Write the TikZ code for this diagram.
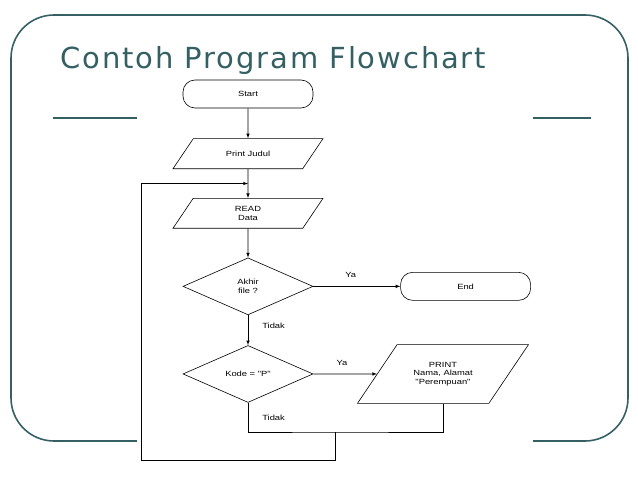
\documentclass[tikz,border=0pt]{standalone}
\usepackage{fontspec}
\setmainfont{Liberation Sans}
\newfontfamily\titlefont[LetterSpace=6.5]{DejaVu Sans}
\newfontfamily\chartfont[FakeStretch=1.25]{Liberation Sans}
\usetikzlibrary{shapes.geometric}
\usetikzlibrary{positioning,calc}

\definecolor{slideteal}{RGB}{52,96,100}

\tikzset{
  every path/.style={line width=0.6pt},
  lbl/.style={font=\chartfont\fontsize{7.5}{8}\selectfont, inner sep=0pt},
  term/.style={draw, rounded corners=12pt, minimum width=130pt, minimum height=28pt,
    inner sep=0pt, font=\chartfont\fontsize{7.5}{8}\selectfont},
  io/.style={draw, trapezium, trapezium left angle=56, trapezium right angle=124,
    trapezium stretches body, inner xsep=0pt, align=center,
    font=\chartfont\fontsize{7.5}{8.5}\selectfont},
  decision/.style={draw, diamond, aspect=2.28, minimum width=130pt, minimum height=57pt,
    inner sep=0pt, align=center, font=\chartfont\fontsize{7.5}{8.5}\selectfont},
}

\begin{document}
\begin{tikzpicture}[x=1pt, y=-1pt, >=latex]
  \useasboundingbox (0,0) rectangle (638,479);

  % slide frame and title
  \draw[slideteal, line width=1.6pt, rounded corners=43pt] (11,15) rectangle (628,441);
  \draw[slideteal, line width=2pt] (53,118) -- (591,118);
  \fill[white] (137,77) rectangle (533,467);
  \node[anchor=base west, inner sep=0pt, text=slideteal,
    font=\titlefont\fontsize{29}{29}\selectfont] (title) at (60,68) {Contoh Program Flowchart};

  % flowchart
  \node[term] (start) at (248,94) {Start};
  \node[io, minimum width=150pt, inner ysep=12.3pt, below=30pt of start] (judul) {Print Judul};
  \node[io, minimum width=150pt, inner ysep=8.1pt, below=29pt of judul] (read) {READ\\Data};
  \node[decision, below=29pt of read] (akhir) {Akhir\\file ?};
  \node[term, right=87pt of akhir] (end) {End};
  \node[decision, below=30pt of akhir] (kode) {Kode = "P"};
  \node[io, minimum width=171pt, inner ysep=17.5pt] (prnt) at ($(kode)+(195,0)$)
    {PRINT\\Nama, Alamat\\"Perempuan"};

  \coordinate (loopin) at ($(judul.south)!0.5!(read.north)$);
  \coordinate (merge) at (335,432);
  \coordinate (loopbot) at (141,460);

  \draw[->] (start) -- (judul);
  \draw[->] (judul) -- (read);
  \draw[->] (read) -- (akhir);
  \draw[->] (akhir) -- node[lbl, pos=0.43, above=8pt] {Ya} (end);
  \draw[->] (akhir) -- node[lbl, pos=0.35, right=14pt] {Tidak} (kode);
  \draw[->] (kode) -- node[lbl, pos=0.45, above=8pt] {Ya} (prnt);
  \draw (prnt.south) |- (merge) -| node[lbl, pos=0.75, right=14pt] {Tidak} (kode.south);
  \draw[->] (merge) |- (loopbot) |- (loopin);

\end{tikzpicture}
\end{document}
